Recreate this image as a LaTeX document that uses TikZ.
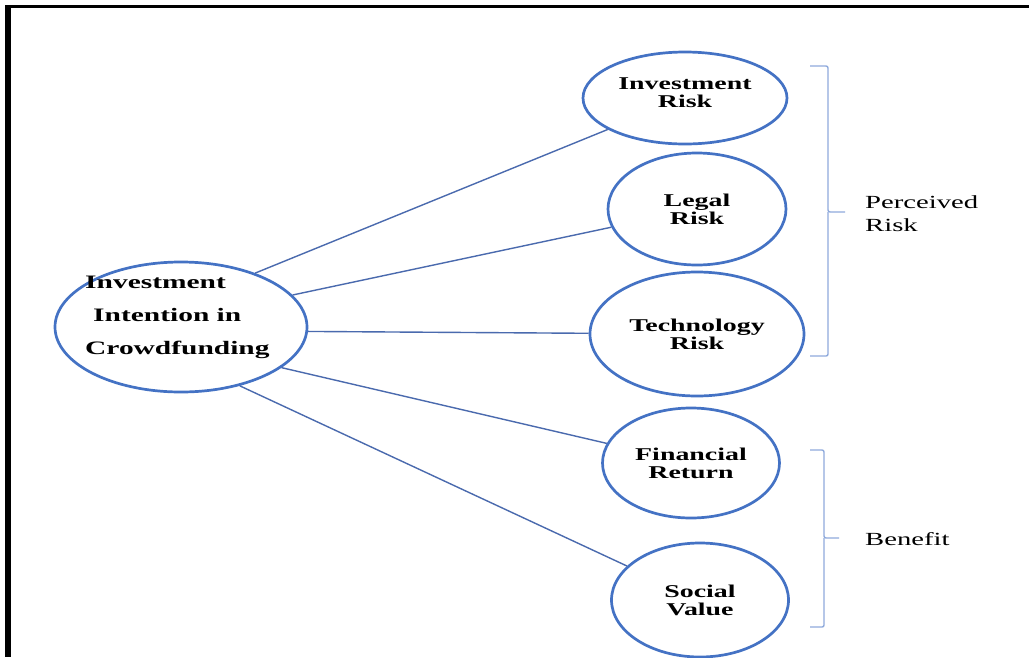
\documentclass[tikz,border=0pt]{standalone}
\usepackage{fontspec}
\setmainfont{Liberation Serif}[FakeStretch=1.55]
\usetikzlibrary{shapes.geometric}
\definecolor{ellblue}{HTML}{4472C4}
\definecolor{lineblue}{HTML}{4A6AAE}
\definecolor{brblue}{HTML}{8FAADC}
\begin{document}
\begin{tikzpicture}[x=1pt,y=-1pt,
  var/.style={ellipse, draw=ellblue, line width=2.7pt, inner sep=0pt, align=center,
    font=\fontsize{18}{18}\selectfont\bfseries},
  link/.style={draw=lineblue, line width=1.4pt},
  bracket/.style={draw=brblue, line width=1.4pt, rounded corners=2pt},
  lbl/.style={font=\fontsize{18.5}{23}\selectfont, align=left, inner sep=0pt, anchor=west},
  mainlbl/.style={font=\fontsize{19}{33}\selectfont\bfseries, align=left, inner sep=0pt, anchor=west}]
\useasboundingbox (0,0) rectangle (1029,657);
\fill[white] (0,0) rectangle (1029,657);
% frame
\fill[black] (5,5) rectangle (1029,8);
\fill[black] (5,5) rectangle (11,657);
% nodes
\node[var, minimum width=252pt, minimum height=130pt] (main) at (181,327) {};
\node[mainlbl] (mainText) at (85,317) {Investment\\\hspace{8pt}Intention in\\Crowdfunding};
\node[var, minimum width=204pt, minimum height=92pt, text depth=10pt] (ir) at (685,98) {Investment\\Risk};
\node[var, minimum width=178pt, minimum height=112pt] (lr) at (697,209) {Legal\\Risk};
\node[var, minimum width=214pt, minimum height=124pt] (tr) at (697,334) {Technology\\Risk};
\node[var, minimum width=177pt, minimum height=110pt] (fr) at (691,463) {Financial\\Return};
\node[var, minimum width=177pt, minimum height=114pt] (sv) at (700,600) {Social\\Value};
% connectors
\draw[link] (main.36) -- (ir);
\draw[link] (main.16) -- (lr);
\draw[link] (main.-2) -- (tr);
\draw[link] (main.-22) -- (fr);
\draw[link] (main.-45) -- (sv);
% brackets
\draw[bracket] (810,66) -- (828,66) -- (828,212) -- (845,212);
\draw[bracket] (828,212) -- (828,356) -- (810,356);
\draw[bracket] (810,450) -- (824,450) -- (824,538) -- (839,538);
\draw[bracket] (824,538) -- (824,627) -- (810,627);
% group labels
\node[lbl] (pr) at (865,214) {Perceived\\Risk};
\node[lbl] (bn) at (865,539) {Benefit};
\end{tikzpicture}
\end{document}
